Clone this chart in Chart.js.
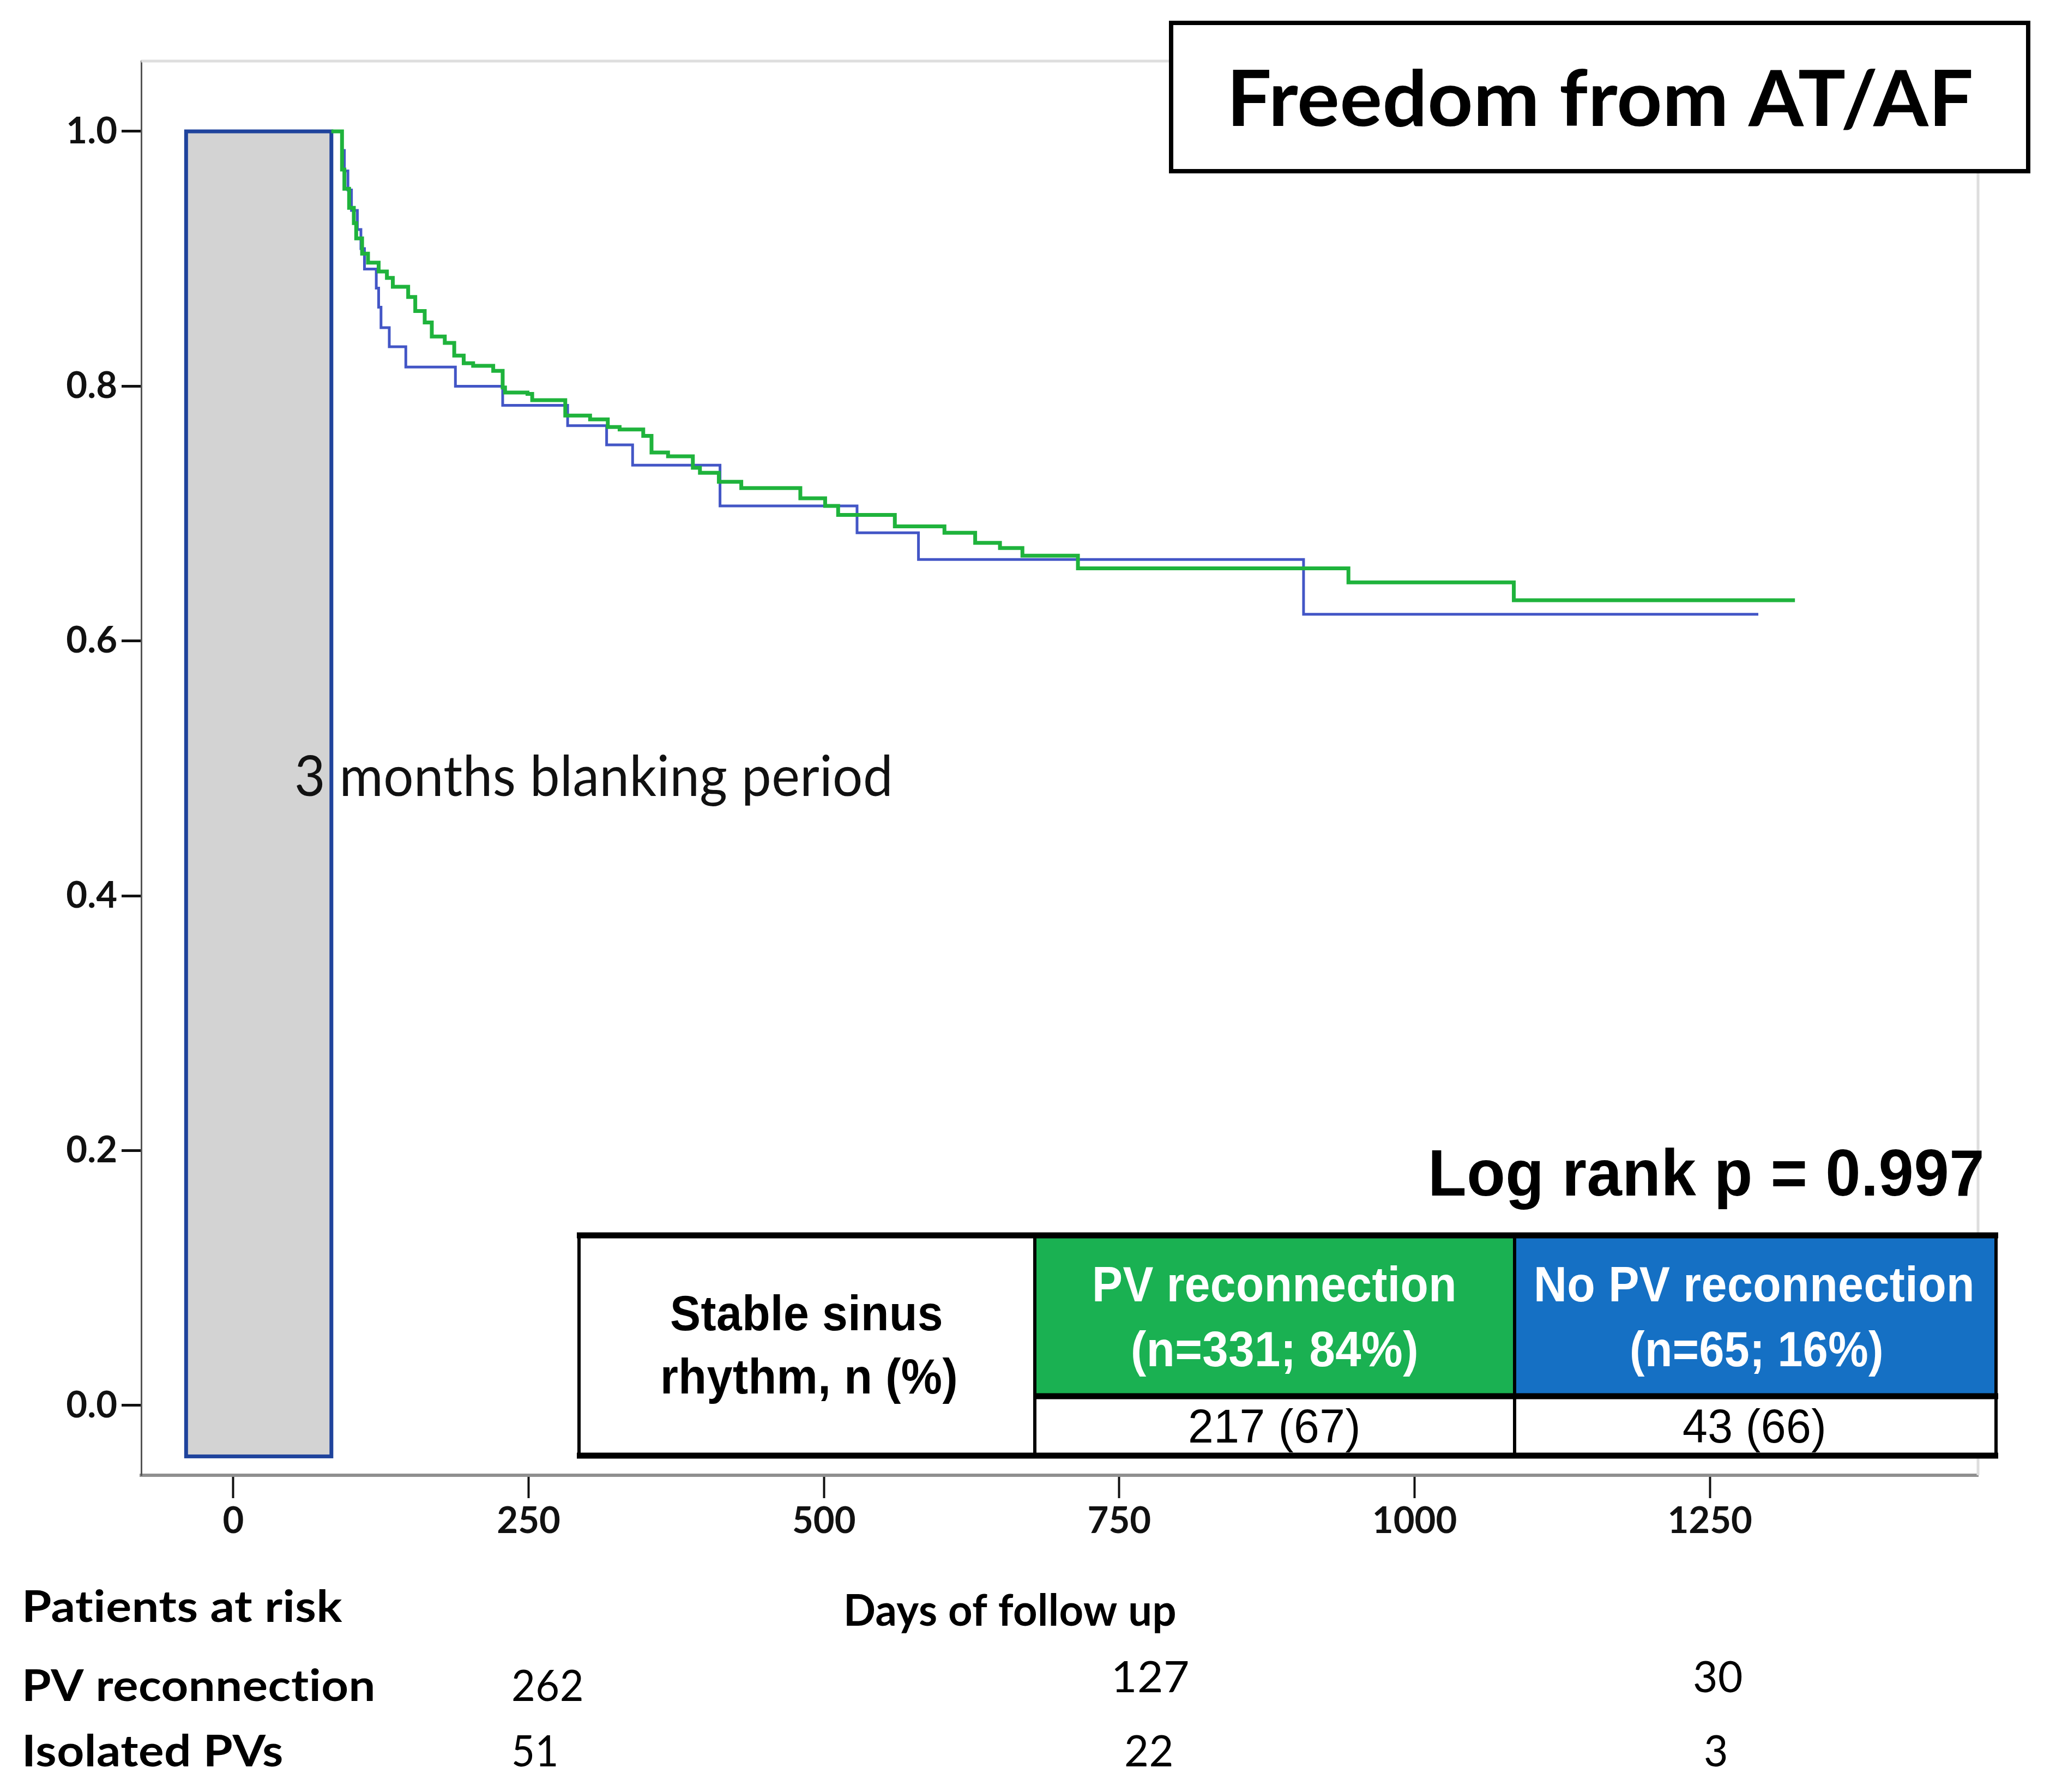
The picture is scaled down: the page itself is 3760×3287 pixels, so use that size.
<!DOCTYPE html>
<html>
<head>
<meta charset="utf-8">
<title>Freedom from AT/AF</title>
<script src="https://cdn.jsdelivr.net/npm/chart.js@4.4.1/dist/chart.umd.min.js"></script>
<style>
  html, body { margin: 0; padding: 0; background: #fff; }
  canvas { display: block; }
</style>
</head>
<body>
<canvas id="kmChart" width="3760" height="3287"></canvas>
<script>
// axis ranges and ticks
var xMin = -78, xMax = 1477;
var yMin = -0.0548, yMax = 1.0552;
var xTicks = [0, 250, 500, 750, 1000, 1250];
var yTicks = [0, 0.2, 0.4, 0.6, 0.8, 1.0];

// blanking period box (days, survival)
var blankDays = [-40, 83];
var blankSurv = [-0.04, 1.0];

// Kaplan-Meier steps: day of the drop, survival after it
var pvDays = [83, 92, 94, 98, 102, 104, 109, 114, 123, 130, 135, 148, 154, 162, 168, 179, 187, 195, 203, 220,
  228, 230, 249, 253, 281, 302, 317, 327, 347, 354, 368, 389, 395, 411, 430, 480, 501, 512, 560, 602,
  628, 649, 668, 715, 944, 1084, 1322];
var pvSurv = [1.0, 0.970, 0.955, 0.940, 0.928, 0.916, 0.904, 0.897, 0.890, 0.885, 0.878, 0.870, 0.859, 0.850, 0.839, 0.834, 0.824, 0.818, 0.816, 0.812,
  0.799, 0.795, 0.794, 0.789, 0.777, 0.774, 0.768, 0.766, 0.761, 0.748, 0.745, 0.736, 0.732, 0.725, 0.720, 0.712, 0.706, 0.699, 0.690, 0.685,
  0.677, 0.673, 0.667, 0.657, 0.646, 0.632, 0.632];

var noPvDays = [83, 92, 94, 97, 100, 105, 108, 111, 121, 123, 125, 132, 146, 188, 228, 283, 316, 338, 412, 528, 580, 906, 1291];
var noPvSurv = [1.0, 0.985, 0.969, 0.954, 0.938, 0.923, 0.908, 0.892, 0.877, 0.862, 0.846, 0.831, 0.815, 0.800, 0.785, 0.769, 0.754, 0.738, 0.706, 0.685, 0.664, 0.621, 0.621];

// table and at-risk numbers
var groupNames = ['PV reconnection', 'No PV reconnection'];
var groupSizes = ['(n=331; 84%)', '(n=65; 16%)'];
var sinusRhythm = ['217 (67)', '43 (66)'];
var riskLabels = ['PV reconnection', 'Isolated PVs'];
var riskPv = [262, 127, 30];
var riskIsolated = [51, 22, 3];

var GREEN = '#1fb33c';
var BLUE = '#4356c6';
var CELL_GREEN = '#1ab152';
var CELL_BLUE = '#1570c4';

function toPoints(days, surv) {
  return days.map(function (d, i) { return { x: d, y: surv[i] }; });
}

// draw text stretched to the width it has in the picture
function fitText(ctx, text, left, baseline, width, font, color) {
  ctx.save();
  ctx.font = font;
  ctx.letterSpacing = '0.5px'; // keeps "ti" from turning into a ligature
  ctx.fillStyle = color;
  ctx.textAlign = 'left';
  ctx.textBaseline = 'alphabetic';
  var w = ctx.measureText(text).width;
  ctx.translate(left, baseline);
  ctx.scale(width / w, 1);
  ctx.fillText(text, 0, 0);
  ctx.restore();
}

var extras = {
  id: 'extras',
  beforeDraw: function (chart) {
    var ctx = chart.ctx;
    ctx.save();
    ctx.fillStyle = '#fff';
    ctx.fillRect(0, 0, chart.width, chart.height);
    ctx.restore();
  },
  beforeDatasetsDraw: function (chart) {
    var ctx = chart.ctx, a = chart.chartArea;
    var xs = chart.scales.x, ys = chart.scales.y;
    ctx.save();
    // light frame on top and right
    ctx.strokeStyle = '#dedede';
    ctx.lineWidth = 5;
    ctx.beginPath();
    ctx.moveTo(a.left, a.top);
    ctx.lineTo(a.right, a.top);
    ctx.lineTo(a.right, a.bottom);
    ctx.stroke();
    // blanking box
    var x0 = xs.getPixelForValue(blankDays[0]), x1 = xs.getPixelForValue(blankDays[1]);
    var y0 = ys.getPixelForValue(blankSurv[1]), y1 = ys.getPixelForValue(blankSurv[0]);
    ctx.fillStyle = '#d3d3d3';
    ctx.fillRect(x0, y0, x1 - x0, y1 - y0);
    ctx.strokeStyle = '#1f439c';
    ctx.lineWidth = 7;
    ctx.strokeRect(x0, y0, x1 - x0, y1 - y0);
    ctx.restore();
  },
  afterDraw: function (chart) {
    var ctx = chart.ctx;
    var lato = 'Lato, "Open Sans", sans-serif';
    var arial = '"Liberation Sans", Arial, sans-serif';

    fitText(ctx, '3 months blanking period', 540, 1460, 1098, '103px ' + lato, '#111');

    // title box
    ctx.save();
    ctx.fillStyle = '#fff';
    ctx.fillRect(2148, 42, 1572, 272);
    ctx.strokeStyle = '#000';
    ctx.lineWidth = 8;
    ctx.strokeRect(2148, 42, 1572, 272);
    ctx.restore();
    fitText(ctx, 'Freedom from AT/AF', 2250, 231, 1370, 'bold 142px ' + lato, '#000');

    fitText(ctx, 'Log rank p = 0.997', 2619, 2193, 1021, 'bold 120px ' + arial, '#000');

    // results table
    ctx.save();
    ctx.fillStyle = '#fff';
    ctx.fillRect(1062, 2266, 2599, 404);
    ctx.fillStyle = CELL_GREEN;
    ctx.fillRect(1898, 2266, 880, 294);
    ctx.fillStyle = CELL_BLUE;
    ctx.fillRect(2778, 2266, 883, 294);
    ctx.strokeStyle = '#000';
    ctx.lineWidth = 6;
    ctx.beginPath();
    ctx.moveTo(1062, 2266); ctx.lineTo(1062, 2670);
    ctx.moveTo(1898, 2266); ctx.lineTo(1898, 2670);
    ctx.moveTo(2778, 2266); ctx.lineTo(2778, 2670);
    ctx.moveTo(3661, 2266); ctx.lineTo(3661, 2670);
    ctx.stroke();
    ctx.lineWidth = 11;
    ctx.beginPath();
    ctx.moveTo(1058, 2266); ctx.lineTo(3665, 2266);
    ctx.moveTo(1898, 2561); ctx.lineTo(3665, 2561);
    ctx.moveTo(1058, 2670); ctx.lineTo(3665, 2670);
    ctx.stroke();
    ctx.restore();

    var tb = 'bold 90px ' + arial, tr = '88px ' + arial;
    fitText(ctx, 'Stable sinus', 1229, 2440, 501, tb, '#000');
    fitText(ctx, 'rhythm, n (%)', 1211, 2556, 546, tb, '#000');
    fitText(ctx, groupNames[0], 2003, 2387, 669, tb, '#fff');
    fitText(ctx, groupSizes[0], 2074, 2506, 528, tb, '#fff');
    fitText(ctx, groupNames[1], 2813, 2387, 809, tb, '#fff');
    fitText(ctx, groupSizes[1], 2989, 2506, 466, tb, '#fff');
    fitText(ctx, sinusRhythm[0], 2179, 2646, 317, tr, '#000');
    fitText(ctx, sinusRhythm[1], 3086, 2646, 264, tr, '#000');

    // patients at risk
    var lb = 'bold 80px ' + lato, ln = '80px ' + lato;
    fitText(ctx, 'Patients at risk', 40, 2975, 588, lb, '#000');
    fitText(ctx, 'Days of follow up', 1547, 2982, 611, lb, '#000');
    fitText(ctx, riskLabels[0], 40, 3120, 649, lb, '#000');
    fitText(ctx, riskLabels[1], 40, 3240, 480, lb, '#000');

    var colLeft = [[938, 2038, 3105], [938, 2062, 3125]];
    var colBase = [[3120, 3104, 3104], [3240, 3240, 3240]];
    var colWidth = [[133, 144, 92], [87, 91, 45]];
    [riskPv, riskIsolated].forEach(function (row, r) {
      row.forEach(function (v, i) {
        fitText(ctx, String(v), colLeft[r][i], colBase[r][i], colWidth[r][i], ln, '#000');
      });
    });
  }
};

var tickFont = { family: 'Lato, "Open Sans", sans-serif', size: 67, weight: 'bold' };

new Chart(document.getElementById('kmChart'), {
  type: 'line',
  data: {
    datasets: [
      {
        label: 'PV reconnection',
        data: toPoints(pvDays, pvSurv),
        stepped: true,
        borderColor: GREEN,
        borderWidth: 7,
        pointRadius: 0,
        fill: false
      },
      {
        label: 'No PV reconnection',
        data: toPoints(noPvDays, noPvSurv),
        stepped: true,
        borderColor: BLUE,
        borderWidth: 5,
        pointRadius: 0,
        fill: false
      }
    ]
  },
  options: {
    responsive: false,
    animation: false,
    devicePixelRatio: 1,
    layout: { padding: { top: 112, right: 132, left: 0, bottom: 0 } },
    plugins: { legend: { display: false }, tooltip: { enabled: false } },
    scales: {
      x: {
        type: 'linear',
        min: xMin,
        max: xMax,
        afterBuildTicks: function (s) { s.ticks = xTicks.map(function (v) { return { value: v }; }); },
        afterFit: function (s) { s.height = 581; },
        grid: { drawOnChartArea: false, tickLength: 42, tickWidth: 4, tickColor: '#111' },
        border: { color: '#8f8f8f', width: 6 },
        ticks: {
          font: tickFont,
          color: '#111',
          padding: 2,
          maxRotation: 0,
          autoSkip: false,
          callback: function (v) { return String(v); }
        }
      },
      y: {
        type: 'linear',
        min: yMin,
        max: yMax,
        afterBuildTicks: function (s) { s.ticks = yTicks.map(function (v) { return { value: v }; }); },
        afterFit: function (s) { s.width = 259; },
        grid: { drawOnChartArea: false, tickLength: 36, tickWidth: 5, tickColor: '#111' },
        border: { color: '#555', width: 3 },
        ticks: {
          font: tickFont,
          color: '#111',
          padding: 8,
          callback: function (v) { return Number(v).toFixed(1); }
        }
      }
    }
  },
  plugins: [extras]
});
</script>
</body>
</html>
